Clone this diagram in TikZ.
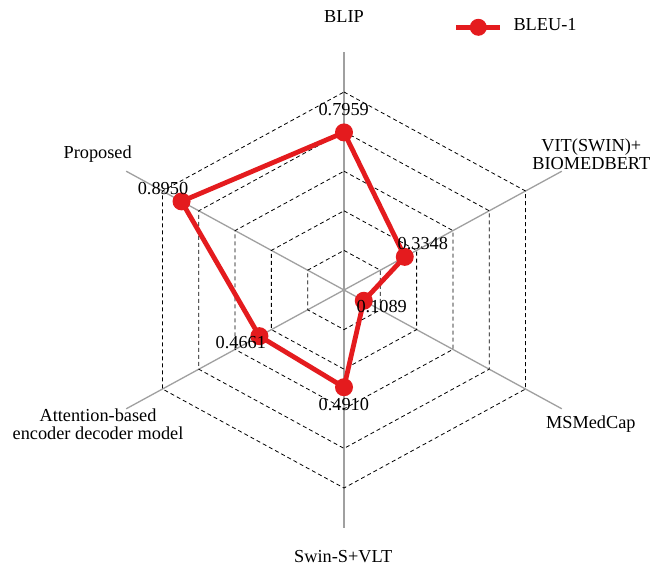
\documentclass[tikz,border=0pt]{standalone}
\usepackage{fontspec}
\setmainfont{Liberation Serif}
\definecolor{serred}{RGB}{228,27,30}
\definecolor{axgray}{RGB}{160,160,160}
\tikzset{
  axisline/.style={draw=axgray, line width=1.3pt},
  gridline/.style={draw=black, line width=0.8pt, dash pattern=on 4pt off 3pt},
  serline/.style={draw=serred, line width=4.8pt, line join=round},
  marker/.style={circle, fill=serred, inner sep=0pt, minimum size=18pt},
  lbl/.style={font=\fontsize{18.3}{18.3}\selectfont, inner sep=0pt, align=center},
  vallbl/.style={font=\fontsize{18.3}{18.3}\selectfont, inner sep=0pt, text height=0.66em, text depth=0pt},
}
\begin{document}
\begin{tikzpicture}[x=1pt, y=-1pt]
\useasboundingbox[fill=white] (0,0) rectangle (652,567);
\begin{scope}[shift={(344,290)}, x=209.6pt, y=198pt]
  \coordinate (c) at (0,0);
  % axes
  \foreach \a/\n in {90/blip, 30/vit, -30/msm, -90/swin, -150/att, 150/prop} {
    \coordinate (e\n) at (\a:1.2);
    \draw[axisline] (c) -- (e\n);
  }
  % grid hexagons
  \foreach \r in {0.2,0.4,0.6,0.8,1.0} {
    \draw[gridline] (90:\r) -- (30:\r) -- (-30:\r) -- (-90:\r) -- (-150:\r) -- (150:\r) -- cycle;
  }
  % data
  \coordinate (d1) at (90:0.7959);
  \coordinate (d2) at (30:0.3348);
  \coordinate (d3) at (-30:0.1089);
  \coordinate (d4) at (-90:0.4910);
  \coordinate (d5) at (-150:0.4661);
  \coordinate (d6) at (150:0.8950);
  \draw[serline] (d1) -- (d2) -- (d3) -- (d4) -- (d5) -- (d6) -- cycle;
  \foreach \i in {1,...,6} { \node[marker] (m\i) at (d\i) {}; }
\end{scope}
% value labels
\node[vallbl] (v1) at (343.7,111.7) {0.7959};
\node[vallbl] (v2) at (422.8,246.0) {0.3348};
\node[vallbl] (v3) at (381.7,309.3) {0.1089};
\node[vallbl] (v4) at (343.8,406.7) {0.4910};
\node[vallbl] (v5) at (240.8,345.0) {0.4661};
\node[vallbl] (v6) at (163.0,190.7) {0.8950};
% axis labels
\node[vallbl] (lblip) at (344,19.5) {BLIP};
\node[lbl] (lvit) at (591.3,154.5) {VIT(SWIN)+\\BIOMEDBERT};
\node[vallbl] (lmsm) at (590.8,425) {MSMedCap};
\node[vallbl] (lswin) at (343.3,559.3) {Swin-S+VLT};
\node[lbl] (latt) at (98,424) {Attention-based\\encoder decoder model};
\node[vallbl] (lprop) at (97.7,155) {Proposed};
% legend
\coordinate (lg1) at (456,27.3);
\coordinate (lg2) at (500,27.3);
\draw[serline] (lg1) -- (lg2);
\node[marker, minimum size=17pt] (lgm) at (478.3,27.3) {};
\node[vallbl, anchor=west] (lgt) at (513.3,27.3) {BLEU-1};
\end{tikzpicture}
\end{document}
